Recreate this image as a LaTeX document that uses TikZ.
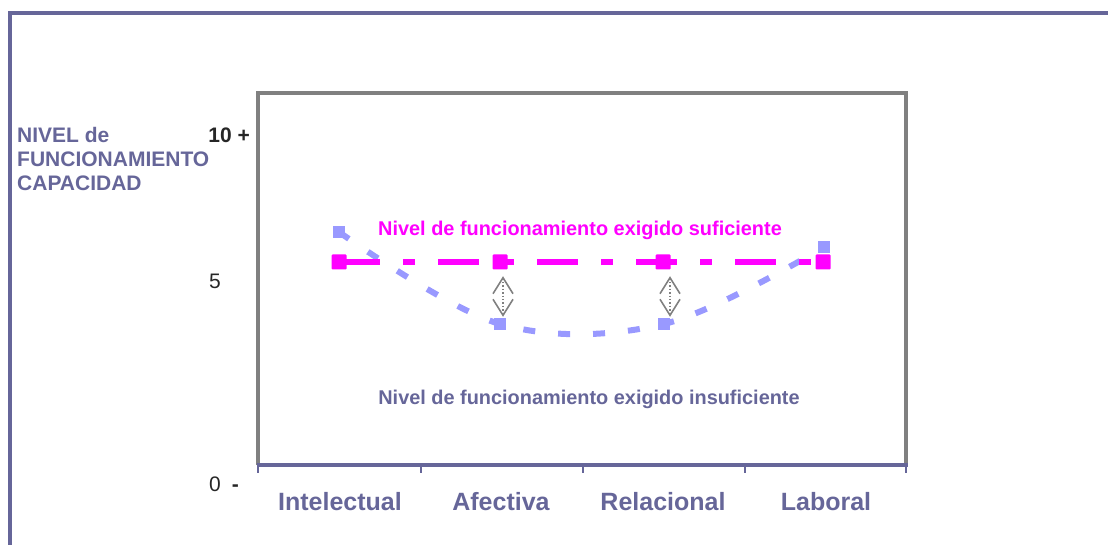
\documentclass[tikz,border=0pt]{standalone}
\usepackage{fontspec}
\setmainfont{Liberation Sans}
\usetikzlibrary{arrows.meta,backgrounds}

\definecolor{slate}{RGB}{102,102,153}
\definecolor{lilac}{RGB}{153,153,255}
\definecolor{pinkline}{RGB}{255,0,255}
\definecolor{framegray}{RGB}{128,128,128}

\begin{document}
\begin{tikzpicture}[x=1pt,y=-1pt,
        magsq/.style={fill=pinkline, minimum size=15pt, inner sep=0pt, rounded corners=1pt},
        bluesq/.style={fill=lilac, minimum size=12pt, inner sep=0pt},
        catlabel/.style={anchor=base, inner sep=0pt, text=slate, font=\fontsize{25}{28}\selectfont\bfseries},
        gaparrow/.style={framegray, line width=1.4pt, dotted,
            {Straight Barb[length=16pt,width=20pt,line width=1.6pt]}-{Straight Barb[length=16pt,width=20pt,line width=1.6pt]}}]
        \useasboundingbox (0,0) rectangle (1108,545);

        % Outer frame (open to the right and below)
        \draw[slate, line width=3.2pt] (10,545) -- (10,13) -- (1108,13);

        % Plot area and category axis
        \draw[framegray, line width=3.2pt] (258,465) -- (258,93) -- (906,93) -- (906,465);
        \draw[slate, line width=3.2pt] (256.5,465) -- (907.5,465);
        \foreach \x in {258,421,583,745,906}
            \draw[slate, line width=2.5pt] (\x,465) -- (\x,473);

        % Axis title and values
        \node[anchor=north west, align=left, inner sep=0pt, text=slate,
            font=\fontsize{21}{24}\selectfont\bfseries] (ytitle) at (17,127) {NIVEL de\\FUNCIONAMIENTO\\CAPACIDAD};
        \node[anchor=base east, inner sep=0pt, text=black!85,
            font=\fontsize{21}{24}\selectfont\bfseries] (yten) at (250,142.7) {10 +};
        \node[anchor=base, inner sep=0pt, text=black!85,
            font=\fontsize{21}{24}\selectfont] (yfive) at (215,289) {5};
        \node[anchor=base west, inner sep=0pt, text=black!85,
            font=\fontsize{21}{24}\selectfont] (yzero) at (209,491) {0\hspace{11pt}\textbf{-}};

        % Categories
        \node[catlabel] (intel) at (340,510) {Intelectual};
        \node[catlabel] (afect) at (501,510) {Afectiva};
        \node[catlabel] (relac) at (663,510) {Relacional};
        \node[catlabel] (labor) at (826,510) {Laboral};

        % Data points: required level (magenta) and capacity (lilac)
        \node[magsq] (m1) at (339,262) {};
        \node[magsq] (m2) at (500,262) {};
        \node[magsq] (m3) at (663,262) {};
        \node[magsq] (m4) at (823,262) {};
        \node[bluesq] (b1) at (339,232) {};
        \node[bluesq] (b2) at (500,324) {};
        \node[bluesq] (b3) at (664,324) {};
        \node[bluesq] (b4) at (824,247) {};

        % Series lines behind the markers
        \begin{scope}[on background layer]
            \draw[lilac, line width=6pt, dash pattern=on 12pt off 23pt]
                plot[smooth, tension=0.58] coordinates {(b1.center) (b2.center) (b3.center) (b4.center)};
            \draw[pinkline, line width=5.3pt, dash pattern=on 41pt off 23pt on 12pt off 23pt]
                (m1.center) -- (m2.center) -- (m3.center) -- (m4.center);
        \end{scope}

        % Gaps between required level and capacity
        \draw[gaparrow] ([xshift=3pt,yshift=-6.5pt]m2.south) -- ([xshift=3pt,yshift=1pt]b2.north);
        \draw[gaparrow] ([xshift=7pt,yshift=-6.5pt]m3.south) -- ([xshift=6pt,yshift=1pt]b3.north);

        % Series labels
        \node[anchor=base, inner sep=0pt, text=pinkline,
            font=\fontsize{19.9}{22}\selectfont\bfseries] (suflab) at (580,236) {Nivel de funcionamiento exigido suficiente};
        \node[anchor=base, inner sep=0pt, text=slate,
            font=\fontsize{19.9}{22}\selectfont\bfseries] (inslab) at (589,404) {Nivel de funcionamiento exigido insuficiente};
    \end{tikzpicture}
\end{document}
